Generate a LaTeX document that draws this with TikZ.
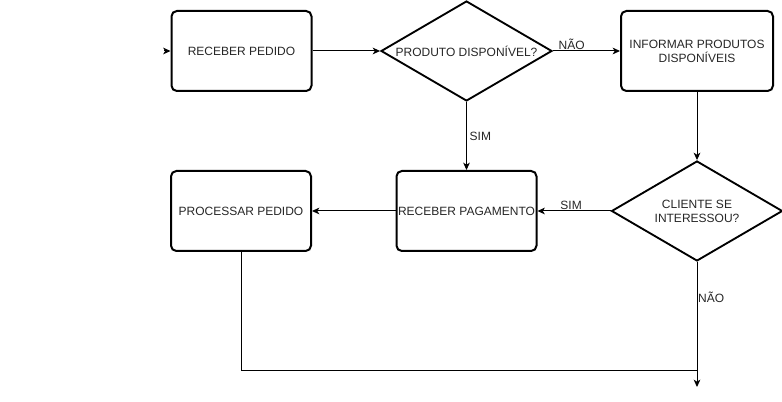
\documentclass[tikz,border=0pt]{standalone}
\usepackage{fontspec}
\setmainfont{Liberation Sans}
\usetikzlibrary{shapes.geometric, arrows.meta, positioning}
\tikzset{
    etapa/.style={
        rectangle,
        rounded corners=4pt,
        draw,
        line width=1.5pt,
        minimum width=105pt,
        minimum height=60pt,
        inner sep=1pt,
        align=center,
        text=black!85,
        font=\fontsize{9}{10.5}\selectfont
    },
    decisao/.style={
        diamond,
        draw,
        line width=1.4pt,
        minimum width=128.25pt,
        minimum height=75pt,
        inner sep=0pt
    },
    rotulo/.style={
        text=black!85,
        align=center,
        font=\fontsize{9}{10.5}\selectfont,
        inner sep=1.5pt
    },
    seta/.style={
        -{Stealth[length=5.5pt, width=5pt, inset=1.5pt]},
        line width=0.75pt
    }
}

\begin{document}
\begin{tikzpicture}[x=0.75pt, y=-0.75pt]
    \useasboundingbox (0,0) rectangle (782,402);

    \node[etapa] (pedido) at (241.5,51) {RECEBER PEDIDO};
    \node[decisao, label={[rotulo]center:PRODUTO DISPONÍVEL?}] (disponivel) at (466.5,51) {};
    \node[etapa, minimum width=114pt] (informar) at (697,51) {INFORMAR PRODUTOS\\DISPONÍVEIS};
    \node[decisao, label={[rotulo]center:CLIENTE SE\\INTERESSOU?}] (interesse) at (697,211) {};
    \node[etapa] (pagamento) at (466.5,211) {RECEBER PAGAMENTO};
    \node[etapa] (processar) at (241,211) {PROCESSAR PEDIDO};

    \coordinate (inicio) at (164,51);
    \coordinate (juncao) at (697,371);
    \coordinate (fim) at (697,387);

    \draw[seta] (inicio) -- (pedido);
    \draw[seta] (pedido) -- (disponivel);
    \draw[seta] (disponivel) -- node[rotulo, pos=0.28, above, inner sep=1pt]{NÃO} (informar);
    \draw[seta] (disponivel) -- node[rotulo, pos=0.5, right, inner sep=2pt]{SIM} (pagamento);
    \draw[seta] (informar) -- (interesse);
    \draw[seta] (interesse) -- node[rotulo, pos=0.54, above, inner sep=1pt]{SIM} (pagamento);
    \draw[seta] (pagamento) -- (processar);
    \draw[seta] (interesse) -- node[rotulo, pos=0.28, right, inner sep=0.5pt]{NÃO} (fim);
    \draw[line width=0.75pt] (processar) |- (juncao);
\end{tikzpicture}
\end{document}
